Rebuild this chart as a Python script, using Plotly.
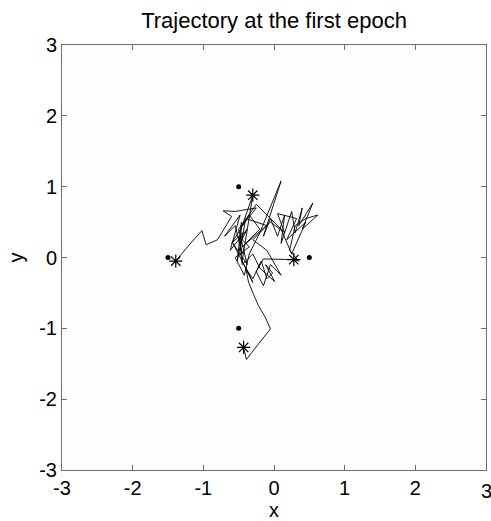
import plotly.graph_objects as go

# Trajectory (data coordinates)
traj_x = [-0.43, -0.39, -0.22, -0.05, -0.12, -0.22, -0.29, -0.36, -0.40, -0.30,
          -0.18, -0.10, -0.02, -0.12, 0.01, -0.20, -0.30, -0.45, -0.48, -0.38,
          -0.62, -0.48, -0.70, -0.55, -0.45, -0.50, -0.35, -0.55, -0.42, -0.35,
          -0.20, 0.10, -0.15, -0.05, 0.05, 0.15, 0.10, 0.25, 0.30, 0.40,
          0.35, 0.55, 0.40, 0.62, 0.45, 0.30, 0.22, 0.35, 0.28, -0.15,
          -0.25, -0.15, -0.05, 0.10, -0.10, -0.30, -0.10, -0.40, -0.48, -0.46,
          -0.52, -0.44, -0.60, -0.35, -0.20, -0.45, -0.05, 0.15, 0.05, 0.32,
          0.18, 0.45, 0.25, 0.10, -0.25, -0.50, -0.38, -0.58, -0.30, -0.45,
          -0.30, -0.45, -0.25, -0.55, -0.72, -0.60, -0.80, -0.96, -1.02, -1.12,
          -1.25, -1.39]
traj_y = [-1.27, -1.44, -1.22, -1.01, -0.85, -0.68, -0.52, -0.35, -0.15, -0.30,
          -0.05, -0.30, -0.22, -0.10, -0.34, -0.15, 0.05, -0.10, 0.20, 0.40,
          0.10, 0.60, 0.30, 0.45, 0.05, 0.30, 0.15, 0.00, -0.25, 0.05,
          0.35, 1.08, 0.30, 0.55, 0.30, 0.60, 0.20, 0.65, 0.35, 0.70,
          0.45, 0.77, 0.40, 0.60, 0.55, 0.45, 0.10, -0.05, -0.03, -0.02,
          -0.20, -0.40, -0.10, -0.25, 0.10, 0.25, 0.45, 0.55, 0.10, 0.50,
          -0.05, 0.35, 0.20, 0.60, 0.40, 0.15, 0.50, 0.35, 0.62, 0.55,
          0.25, 0.50, 0.05, 0.40, 0.75, 0.40, -0.10, 0.20, -0.35, -0.05,
          0.88, 0.45, 0.70, 0.65, 0.66, 0.58, 0.25, 0.18, 0.38, 0.27,
          0.12, -0.05]

# Target points (dots)
dot_x = [-1.5, -0.5, -0.5, 0.5]
dot_y = [0.0, 1.0, -1.0, 0.0]

# Agent positions (stars)
star_x = [-1.39, -0.30, -0.43, 0.28]
star_y = [-0.05, 0.88, -1.27, -0.03]

tick_vals = [-3, -2, -1, 0, 1, 2, 3]
tick_text = ["-3", "-2", "-1", "0", "1", "2", "3"]

fig = go.Figure()
fig.add_trace(go.Scatter(x=traj_x, y=traj_y, mode="lines",
                         line=dict(color="black", width=0.9), showlegend=False))
fig.add_trace(go.Scatter(x=dot_x, y=dot_y, mode="markers",
                         marker=dict(symbol="circle", size=5, color="black"),
                         showlegend=False))
fig.add_trace(go.Scatter(x=star_x, y=star_y, mode="markers",
                         marker=dict(symbol="asterisk-open", size=11, color="black",
                                     line=dict(color="black", width=1.2)),
                         showlegend=False))

font_family = "Liberation Sans, Arial, sans-serif"
tick_font = dict(family=font_family, size=20, color="black")
axis_common = dict(range=[-3, 3], tickvals=tick_vals, ticktext=tick_text,
                   showgrid=False, zeroline=False, showline=True,
                   linecolor="#6e6e6e", linewidth=1, mirror="ticks",
                   ticks="inside", ticklen=5, tickcolor="#6e6e6e",
                   tickfont=tick_font)

fig.update_layout(
    width=491, height=521,
    margin=dict(l=62, r=5, t=45, b=51),
    paper_bgcolor="white", plot_bgcolor="#fdfdfd",
    title=dict(text="Trajectory at the first epoch", x=0.5, xref="paper",
               y=1 - 20 / 521, yref="container", yanchor="middle",
               font=dict(family=font_family, size=22, color="black")),
    xaxis=dict(**axis_common,
               title=dict(text="x", standoff=2,
                          font=dict(family=font_family, size=20, color="black"))),
    yaxis=dict(**axis_common,
               title=dict(text="y", standoff=10,
                          font=dict(family=font_family, size=20, color="black"))),
)

# rightmost x tick label is dropped by plotly (overflows the page); draw it as text
fig.add_annotation(x=tick_vals[-1], xref="x", y=0, yref="paper", yanchor="top",
                   yshift=-8, text=tick_text[-1], showarrow=False, font=tick_font)

fig.write_html("out.html")
